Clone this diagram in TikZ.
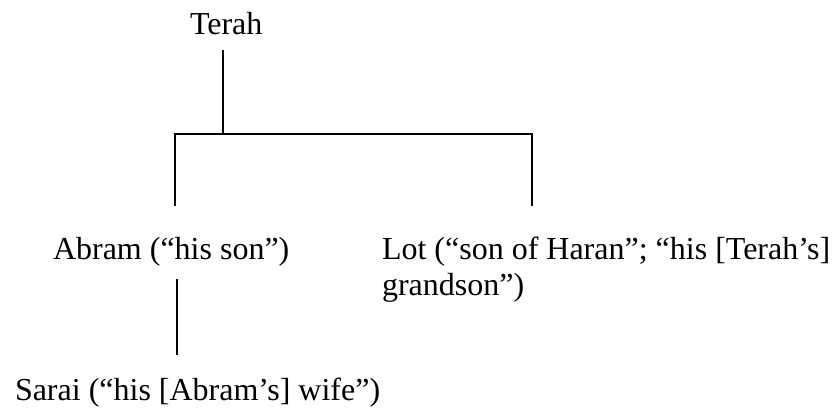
\documentclass[tikz,border=0pt]{standalone}
\usepackage{fontspec}
\setmainfont{Liberation Serif}
\begin{document}
\begin{tikzpicture}[x=1pt,y=-1pt,
  lbl/.style={inner sep=0pt,outer sep=0pt,font=\fontsize{32}{36}\selectfont,anchor=base west},
  conn/.style={line width=1.6pt,line cap=butt}]
\useasboundingbox (0,0) rectangle (838,409);
\node[lbl] (terah) at (190,35) {Terah};
\node[lbl] (abram) at (53,259) {Abram (“his son”)};
\node[lbl,align=left] (lot) at (382,295) {Lot (“son of Haran”; “his [Terah’s]\\grandson”)};
\node[lbl] (sarai) at (15,400) {Sarai (“his [Abram’s] wife”)};
\coordinate (t) at (223,50);
\coordinate (j) at (223,134);
\coordinate (l) at (175,134);
\coordinate (r) at (532,134);
\coordinate (lb) at (175,206);
\coordinate (rb) at (532,206);
\coordinate (a1) at (177,279);
\coordinate (a2) at (177,355);
\draw[conn] (t) -- (j);
\draw[conn] (lb) -- (l) -- (r) -- (rb);
\draw[conn] (a1) -- (a2);
\end{tikzpicture}
\end{document}
